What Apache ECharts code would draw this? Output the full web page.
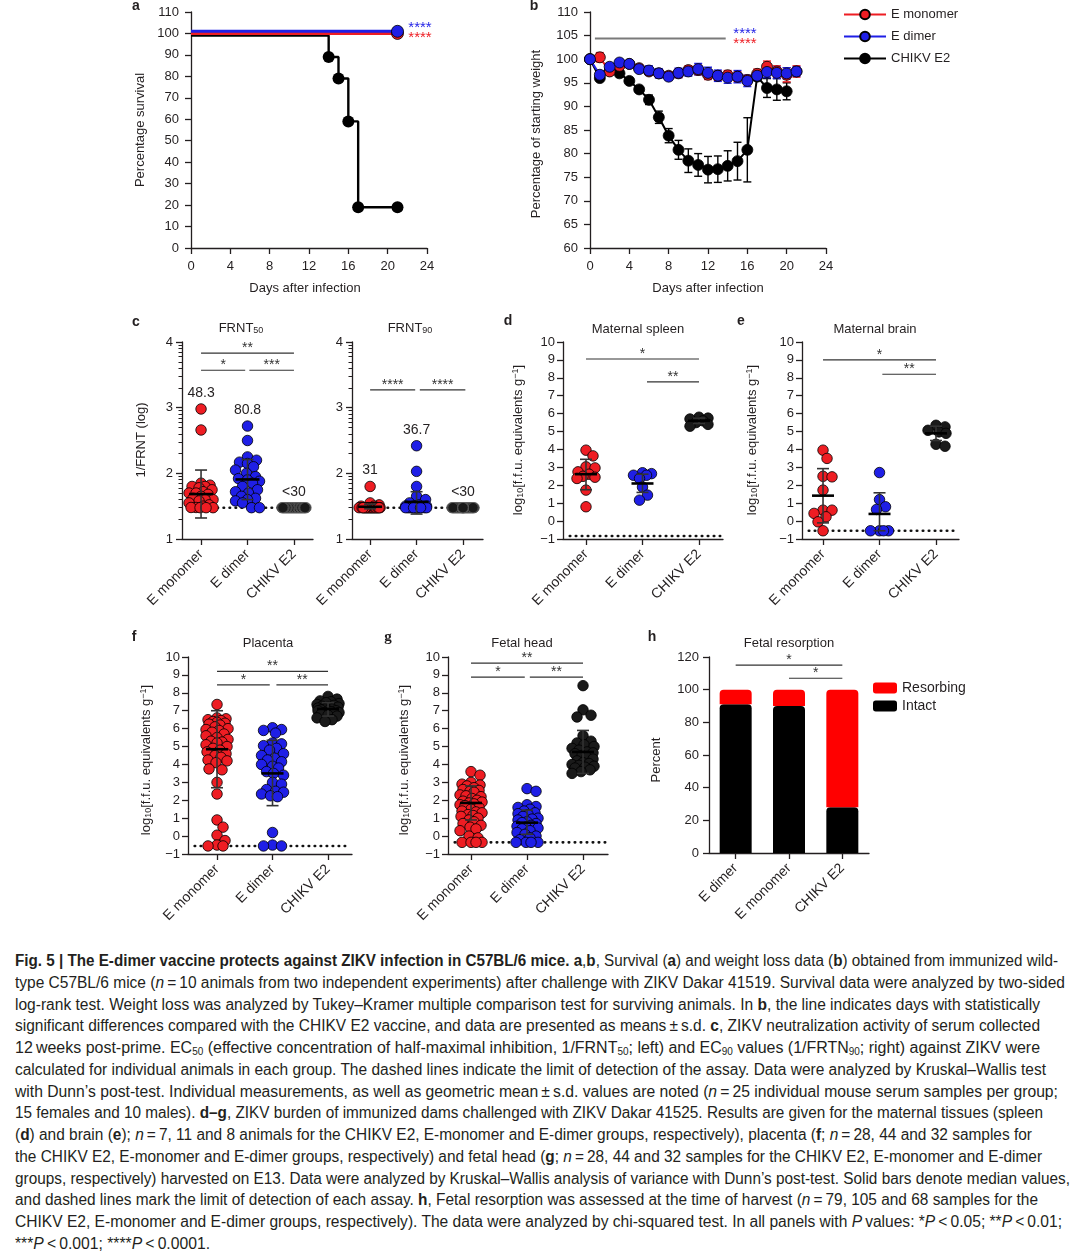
<!DOCTYPE html>
<html><head><meta charset="utf-8">
<script src="https://cdn.jsdelivr.net/npm/echarts@6/dist/echarts.min.js"></script>
<style>
html,body{margin:0;padding:0;background:#fff}
body{width:1080px;height:1258px;overflow:hidden;position:relative}
#chart{position:absolute;left:0;top:0;width:1080px;height:940px}
#caption{position:absolute;left:15px;top:950px;font-family:'Liberation Sans',Arial,sans-serif;font-size:16px;color:#231f20;line-height:21.75px}
.ln{white-space:nowrap;transform-origin:0 50%;width:max-content;height:21.75px}
sub{font-size:10px;vertical-align:-2px;line-height:0}
</style></head>
<body>
<div id="chart"></div>
<div id="caption"></div>
<script>
// ======================= DATA =======================
const groups3 = ['E monomer', 'E dimer', 'CHIKV E2'];
const groupsH = ['E dimer', 'E monomer', 'CHIKV E2'];

// (a) survival
const survDaysMono = [0, 21];
const survMono = [100, 100];
const survDaysDimer = [0, 21];
const survDimer = [101, 101];
const survDaysChikv = [0, 14, 15, 16, 17, 21];
const survChikv = [99, 89, 79, 59, 19, 19];

// (b) weight (% of starting weight), mean and s.d.
const weightDays = [0,1,2,3,4,5,6,7,8,9,10,11,12,13,14,15,16,17,18,19,20,21];
const wMono   = [100,100.4,97.4,98.6,99.0,98.1,97.4,97.0,96.5,97.0,97.7,97.7,96.7,96.5,96.6,96.3,95.6,96.9,98.4,97.4,96.7,97.4];
const wMonoSd = [0,1.0,0.7,0.7,0.6,0.7,0.8,0.8,0.8,0.9,0.9,1.0,1.0,1.0,1.0,1.0,1.0,1.0,1.2,1.2,1.5,1.2];
const wDimer   = [100,96.7,98.4,99.3,99.0,97.9,97.6,97.0,96.3,97.1,97.4,97.9,97.1,96.5,96.1,96.3,95.4,96.5,97.3,97.1,97.0,97.4];
const wDimerSd = [0,0.8,0.7,0.6,0.6,0.7,1.0,1.0,0.8,1.0,1.0,1.2,1.2,1.2,1.2,1.3,1.2,1.0,1.2,1.2,1.2,1.0];
const chikvDays = [0,1,2,3,4,5,6,7,8,9,10,11,12,13,14,15,16,17,18,19,20];
const wChikv   = [100,96.0,97.5,97.0,95.4,93.6,91.4,87.7,83.8,80.8,78.5,77.6,76.6,76.7,77.4,78.4,80.8,96.3,93.9,93.6,93.2];
const wChikvSd = [0,0.5,0.5,0.5,0.5,0.5,1.0,1.3,1.5,2.0,2.5,2.4,2.8,2.8,3.2,4.0,6.8,0.8,2.0,2.3,1.8];

// (c) 1/FRNT (log10)
const frnt50Mono  = [2.98,2.66,1.85,1.82,1.8,1.8,1.78,1.75,1.72,1.7,1.7,1.68,1.65,1.62,1.6,1.6,1.58,1.55,1.52,1.5,1.48,1.48,1.477,1.477,1.477];
const frnt50Dimer = [2.72,2.5,2.25,2.2,2.17,2.15,2.1,2.05,2.0,1.95,1.92,1.9,1.88,1.85,1.8,1.75,1.72,1.7,1.65,1.62,1.6,1.58,1.55,1.477,1.477];
const frnt50Chikv = [1.477,1.477,1.477,1.477,1.477,1.477,1.477,1.477,1.477,1.477,1.477,1.477,1.477,1.477,1.477,1.477,1.477,1.477,1.477,1.477,1.477,1.477,1.477,1.477,1.477];
const frnt50Mean = [1.684, 1.907, null];
const frnt50Lo   = [1.32, 1.60, null];
const frnt50Hi   = [2.05, 2.21, null];
const frnt50Labels = ['48.3', '80.8', '<30'];
const frnt90Mono  = [1.8,1.55,1.52,1.5,1.5,1.477,1.477,1.477,1.477,1.477,1.477,1.477,1.477,1.477,1.477,1.477,1.477,1.477,1.477,1.477,1.477,1.477,1.477,1.477,1.477];
const frnt90Dimer = [2.42,2.03,1.8,1.65,1.6,1.55,1.52,1.5,1.5,1.5,1.49,1.477,1.477,1.477,1.477,1.477,1.477,1.477,1.477,1.477,1.477,1.477,1.477,1.477,1.477];
const frnt90Chikv = [1.477,1.477,1.477,1.477,1.477,1.477,1.477,1.477,1.477,1.477,1.477,1.477,1.477,1.477,1.477,1.477,1.477,1.477,1.477,1.477,1.477,1.477,1.477,1.477,1.477];
const frnt90Mean = [1.491, 1.565, null];
const frnt90Lo   = [1.46, 1.38, null];
const frnt90Hi   = [1.53, 1.72, null];
const frnt90Labels = ['31', '36.7', '<30'];
const frntLod = 1.477;

// (d) maternal spleen
const spleenMono  = [3.96,3.64,3.03,2.97,2.75,2.62,2.5,2.45,2.38,1.73,0.8];
const spleenDimer = [2.7,2.65,2.56,2.56,2.38,1.9,1.45,1.17];
const spleenChikv = [5.8,5.75,5.7,5.6,5.5,5.4,5.3];
const spleenMed = [2.62, 2.1, 5.6], spleenLo = [1.75, 1.6, 5.45], spleenHi = [3.45, 2.62, 5.75];
const spleenLod = -0.83;
// (e) maternal brain
const brainMono  = [3.96,3.5,2.5,2.47,1.73,0.61,0.61,0.43,0.24,-0.04,-0.54];
const brainDimer = [2.71,1.2,0.8,0.65,-0.54,-0.54,-0.54,-0.54];
const brainChikv = [5.35,5.26,5.07,4.98,4.9,4.29,4.18];
const brainMed = [1.42, 0.4, 4.9], brainLo = [-0.1, -0.54, 4.5], brainHi = [2.93, 1.58, 5.3];
const brainLod = -0.54;
// (f) placenta
const placMono = [7.35,6.6,6.55,6.5,6.45,6.4,6.35,6.3,6.25,6.2,6.1,6.0,5.95,5.9,5.8,5.7,5.6,5.5,5.4,5.3,5.25,5.2,5.1,5.0,4.9,4.8,4.7,4.6,4.5,4.4,4.25,4.2,4.1,3.75,3.7,3.0,2.35,0.9,0.5,0.05,-0.25,-0.5,-0.55,-0.55];
const placDimer = [6.05,5.95,5.9,5.75,5.2,5.15,5.05,4.9,4.8,4.6,4.5,4.35,4.25,4.15,4.0,3.9,3.8,3.6,3.5,3.4,3.0,2.9,2.6,2.5,2.45,2.35,2.25,2.2,0.2,-0.5,-0.55,-0.55];
const placChikv = [7.8,7.65,7.55,7.5,7.45,7.4,7.35,7.3,7.25,7.2,7.2,7.15,7.1,7.1,7.05,7.0,7.0,7.0,6.95,6.9,6.9,6.85,6.8,6.75,6.7,6.6,6.5,6.4];
const placMed = [4.85, 3.5, 7.1], placLo = [2.7, 1.7, 6.7], placHi = [7.0, 5.35, 7.45];
const placLod = -0.55;
// (g) fetal head
const headMono = [3.6,3.4,3.0,2.9,2.85,2.8,2.7,2.6,2.55,2.5,2.45,2.3,2.25,2.2,2.1,2.0,1.95,1.9,1.85,1.8,1.75,1.7,1.6,1.5,1.4,1.35,1.3,1.2,1.15,1.1,1.0,0.9,0.8,0.7,0.6,0.5,0.4,0.3,0.0,-0.1,-0.35,-0.35,-0.35,-0.35];
const headDimer = [2.65,2.5,1.75,1.65,1.6,1.5,1.4,1.3,1.25,1.2,1.1,1.0,0.95,0.9,0.8,0.75,0.7,0.6,0.55,0.5,0.45,0.4,0.3,0.2,0.1,0.0,-0.1,-0.2,-0.35,-0.35,-0.35,-0.35];
const headChikv = [8.4,7.05,6.75,6.65,5.6,5.3,5.2,5.1,5.0,4.9,4.8,4.7,4.65,4.6,4.5,4.4,4.3,4.2,4.1,4.05,4.0,3.95,3.9,3.85,3.8,3.7,3.6,3.5];
const headMed = [1.85, 0.75, 4.7], headLo = [0.9, 0.1, 3.5], headHi = [2.8, 1.45, 5.9];
const headLod = -0.35;

// (h) fetal resorption (%), order E dimer, E monomer, CHIKV E2
const intactPct = [91, 90, 28];
const resorbPct = [9, 10, 72];

// significance brackets [x1, x2, y] and texts
const sigC1 = [[1, 3, 3.83], [1, 1.95, 3.57], [2.04, 3, 3.57]], sigC1Txt = ['**', '*', '***'];
const sigC2 = [[1, 1.97, 3.27], [2.07, 3.05, 3.27]], sigC2Txt = ['****', '****'];
const sigD = [[1, 3, 9.05], [2.08, 3, 7.77]], sigDTxt = ['*', '**'];
const sigE = [[1, 3, 9.0], [2.05, 3, 8.2]], sigETxt = ['*', '**'];
const sigF = [[1, 3, 9.2], [1, 1.95, 8.44], [2.07, 3, 8.44]], sigFTxt = ['**', '*', '**'];
const sigG = [[1, 3, 9.66], [1, 1.96, 8.88], [2.05, 3, 8.88]], sigGTxt = ['**', '*', '**'];
const sigH = [[0, 2, 115], [1, 2, 107]], sigHTxt = ['*', '*'];
const sigB = [[0.5, 13.8, 104.4]];

// ======================= STYLE / LAYOUT =======================
const SANS = "'Liberation Sans', Arial, Helvetica, sans-serif";
const INK = '#231f20';
const RED = '#ee1d23', BLUE = '#1f1fe6', BLK = '#000000';
const MINUS = '\u2212';

const grids = [], xAxes = [], yAxes = [], series = [], graphics = [];

function merge(a, b) {
  const o = Object.assign({}, a);
  for (const k in b) {
    if (b[k] && typeof b[k] === 'object' && !Array.isArray(b[k]) && a && a[k] && typeof a[k] === 'object' && !Array.isArray(a[k])) o[k] = merge(a[k], b[k]);
    else o[k] = b[k];
  }
  return o;
}
function baseAxis(extra) {
  return merge({
    axisLine: { show: true, onZero: false, lineStyle: { color: INK, width: 1.3 } },
    axisTick: { show: true, inside: false, length: 6, lineStyle: { color: INK, width: 1.3 } },
    axisLabel: { color: INK, fontSize: 13, fontFamily: SANS },
    splitLine: { show: false }
  }, extra);
}
function addGrid(g) {
  grids.push({ left: g[0], top: g[1], width: g[2], height: g[3], containLabel: false });
  return grids.length - 1;
}
const minusFmt = v => String(v).replace('-', MINUS);

function txt(x, y, text, style, el) {
  graphics.push(Object.assign({ type: 'text', x: x, y: y, silent: true,
    style: Object.assign({ text: text, fill: INK, fontSize: 13, fontFamily: SANS, align: 'center', verticalAlign: 'middle' }, style || {}) }, el || {}));
}

// deterministic beeswarm layout (pixel-space dodge), returns x offsets in axis units
function swarm(values, pxY, pxX, dia, maxHalf) {
  const order = values.map((v, i) => i).sort((a, b) => values[b] - values[a]);
  const placed = [], offs = values.map(() => 0);
  const cands = [0];
  for (let k = 1; k <= maxHalf; k++) { cands.push(k, -k); }
  order.forEach(i => {
    const y = values[i] * pxY;
    let best = 0, bestD = -1;
    for (const c of cands) {
      let md = Infinity;
      for (const p of placed) { const d = Math.hypot(p.x - c, p.y - y); if (d < md) md = d; }
      if (md >= dia) { best = c; break; }
      if (md > bestD + 0.5) { bestD = md; best = c; }
    }
    placed.push({ x: best, y: y });
    offs[i] = best / pxX;
  });
  return offs;
}

function bracketRender(texts, color) {
  return function (params, api) {
    const p1 = api.coord([api.value(0), api.value(2)]);
    const p2 = api.coord([api.value(1), api.value(2)]);
    const ch = [{ type: 'line', shape: { x1: p1[0], y1: p1[1], x2: p2[0], y2: p2[1] }, style: { stroke: color || '#333', lineWidth: color ? 2 : 1.2 } }];
    const t = texts ? texts[params.dataIndex] : '';
    if (t) ch.push({ type: 'text', x: (p1[0] + p2[0]) / 2, y: p1[1] - 5, style: { text: t, fill: '#333', fontSize: 14, fontFamily: SANS, align: 'center', verticalAlign: 'middle' } });
    return { type: 'group', children: ch };
  };
}
function summaryRender(half, cap) {
  return function (params, api) {
    const x = api.value(0);
    const pc = api.coord([x, api.value(1)]), pl = api.coord([x, api.value(2)]), ph = api.coord([x, api.value(3)]);
    const st = { stroke: '#333', lineWidth: 1.6 };
    return { type: 'group', children: [
      { type: 'line', shape: { x1: pl[0], y1: pl[1], x2: ph[0], y2: ph[1] }, style: st },
      { type: 'line', shape: { x1: pl[0] - cap, y1: pl[1], x2: pl[0] + cap, y2: pl[1] }, style: st },
      { type: 'line', shape: { x1: ph[0] - cap, y1: ph[1], x2: ph[0] + cap, y2: ph[1] }, style: st },
      { type: 'line', shape: { x1: pc[0] - half, y1: pc[1], x2: pc[0] + half, y2: pc[1] }, style: { stroke: '#000', lineWidth: 2.6 } }
    ] };
  };
}
function errRender(color, cap) {
  return function (params, api) {
    const x = api.value(0), m = api.value(1), s = api.value(2);
    const pl = api.coord([x, m - s]), ph = api.coord([x, m + s]);
    const st = { stroke: color, lineWidth: 1.4 };
    if (!s) return { type: 'group', children: [] };
    return { type: 'group', children: [
      { type: 'line', shape: { x1: pl[0], y1: pl[1], x2: ph[0], y2: ph[1] }, style: st },
      { type: 'line', shape: { x1: pl[0] - cap, y1: pl[1], x2: pl[0] + cap, y2: pl[1] }, style: st },
      { type: 'line', shape: { x1: ph[0] - cap, y1: ph[1], x2: ph[0] + cap, y2: ph[1] }, style: st }
    ] };
  };
}
function labelRender(texts) {
  return function (params, api) {
    const p = api.coord([api.value(0), api.value(1)]);
    return { type: 'text', x: p[0], y: p[1] - 16, style: { text: texts[params.dataIndex], fill: INK, fontSize: 14, fontFamily: SANS, align: 'center', verticalAlign: 'middle' } };
  };
}

// ---------- (a) survival ----------
(function () {
  const gi = addGrid([191, 12, 236, 236]);
  xAxes.push(baseAxis({ type: 'value', gridIndex: gi, min: 0, max: 24, interval: 4, axisLabel: { margin: 12 } }));
  yAxes.push(baseAxis({ type: 'value', gridIndex: gi, min: 0, max: 110, interval: 10, axisLabel: { margin: 12 } }));
  const xi = xAxes.length - 1, yi = yAxes.length - 1;
  const mk = (days, vals) => days.map((d, i) => i === 0 ? { value: [d, vals[i]], symbol: 'none' } : [d, vals[i]]);
  series.push({ type: 'line', name: 'CHIKV E2 survival', xAxisIndex: xi, yAxisIndex: yi, step: 'end', data: mk(survDaysChikv, survChikv),
    symbol: 'circle', symbolSize: 12, itemStyle: { color: BLK }, lineStyle: { color: BLK, width: 2.4 } });
  series.push({ type: 'line', name: 'E monomer survival', xAxisIndex: xi, yAxisIndex: yi, data: mk(survDaysMono, survMono),
    symbol: 'circle', symbolSize: 12, itemStyle: { color: RED, borderColor: '#000', borderWidth: 0.8 }, lineStyle: { color: RED, width: 3 } });
  series.push({ type: 'line', name: 'E dimer survival', xAxisIndex: xi, yAxisIndex: yi, data: mk(survDaysDimer, survDimer),
    symbol: 'circle', symbolSize: 12, itemStyle: { color: BLUE, borderColor: '#000', borderWidth: 0.8 }, lineStyle: { color: BLUE, width: 3 } });
  txt(136, 6, 'a', { fontWeight: 'bold', fontSize: 14 });
  txt(140, 130, 'Percentage survival', {}, { rotation: Math.PI / 2 });
  txt(305, 288, 'Days after infection');
  txt(420, 28, '****', { fill: BLUE, fontSize: 15 });
  txt(420, 38, '****', { fill: RED, fontSize: 15 });
})();

// ---------- (b) weight ----------
(function () {
  const gi = addGrid([590, 12, 236, 236]);
  xAxes.push(baseAxis({ type: 'value', gridIndex: gi, min: 0, max: 24, interval: 4, axisLabel: { margin: 12 } }));
  yAxes.push(baseAxis({ type: 'value', gridIndex: gi, min: 60, max: 110, interval: 5, axisLabel: { margin: 12 } }));
  const xi = xAxes.length - 1, yi = yAxes.length - 1;
  series.push({ type: 'custom', xAxisIndex: xi, yAxisIndex: yi, renderItem: bracketRender(null, '#7a7a7a'), data: sigB, z: 1 });
  const add = (name, days, m, sd, color) => {
    series.push({ type: 'custom', xAxisIndex: xi, yAxisIndex: yi, renderItem: errRender(color, 4), data: days.map((d, i) => [d, m[i], sd[i]]) });
    series.push({ type: 'line', name: name, xAxisIndex: xi, yAxisIndex: yi, data: days.map((d, i) => [d, m[i]]),
      symbol: 'circle', symbolSize: 11, showAllSymbol: true,
      itemStyle: { color: color, borderColor: '#000', borderWidth: 0.8 }, lineStyle: { color: color, width: 2 } });
  };
  add('CHIKV E2', chikvDays, wChikv, wChikvSd, BLK);
  add('E monomer', weightDays, wMono, wMonoSd, RED);
  add('E dimer', weightDays, wDimer, wDimerSd, BLUE);
  txt(534, 6, 'b', { fontWeight: 'bold', fontSize: 14 });
  txt(536, 134, 'Percentage of starting weight', {}, { rotation: Math.PI / 2 });
  txt(708, 288, 'Days after infection');
  txt(745, 34, '****', { fill: BLUE, fontSize: 15 });
  txt(745, 44, '****', { fill: RED, fontSize: 15 });
})();

// ---------- scatter panel builder ----------
function scatterPanel(cfg) {
  const g = cfg.grid;
  const gi = addGrid(g);
  const pxX = g[2] / (cfg.xmax - cfg.xmin), pxY = g[3] / (cfg.ymax - cfg.ymin);
  xAxes.push(baseAxis({ type: 'value', gridIndex: gi, min: cfg.xmin, max: cfg.xmax,
    axisTick: { customValues: [1, 2, 3], length: 6 },
    axisLabel: { customValues: [1, 2, 3], formatter: v => groups3[Math.round(v) - 1], rotate: 45, fontSize: 14, margin: 13 } }));
  const xi = xAxes.length - 1;
  yAxes.push(baseAxis(merge({ type: 'value', gridIndex: gi, position: 'left', min: cfg.ymin, max: cfg.ymax, interval: cfg.interval,
    axisLabel: { margin: cfg.labelMargin || 8, formatter: minusFmt } }, cfg.yExtra || {})));
  const yi = yAxes.length - 1;
  if (cfg.minorTicks) {
    yAxes.push({ type: 'value', gridIndex: gi, position: 'left', min: cfg.ymin, max: cfg.ymax,
      axisLine: { show: false }, axisLabel: { show: false }, splitLine: { show: false },
      axisTick: { show: true, length: 3.5, customValues: cfg.minorTicks, lineStyle: { color: INK, width: 1 } } });
  }
  series.push({ type: 'line', xAxisIndex: xi, yAxisIndex: yi, data: [[cfg.xmin + 0.12, cfg.lod], [cfg.xmax - 0.05, cfg.lod]], symbol: 'none',
    lineStyle: { color: '#111', width: 2.6, type: [0.5, 5.5], cap: 'round' }, silent: true, z: 1 });
  const colors = [RED, BLUE, '#1a1a1a'];
  cfg.groups.forEach((vals, gIdx) => {
    const offs = swarm(vals, pxY, pxX, cfg.dia || 9, cfg.maxHalf || 9);
    series.push({ type: 'scatter', xAxisIndex: xi, yAxisIndex: yi, symbolSize: 10.5,
      itemStyle: { color: colors[gIdx], borderColor: gIdx === 2 && cfg.grayChikv ? '#666' : '#000', borderWidth: 0.8, opacity: 1 },
      data: vals.map((v, i) => [gIdx + 1 + offs[i], v]), z: 3 });
  });
  const summ = [];
  cfg.center.forEach((c, i) => { if (c !== null) summ.push([i + 1, c, cfg.lo[i], cfg.hi[i]]); });
  series.push({ type: 'custom', xAxisIndex: xi, yAxisIndex: yi, renderItem: summaryRender(cfg.half || 11, 6), data: summ, z: 5 });
  series.push({ type: 'custom', xAxisIndex: xi, yAxisIndex: yi, renderItem: bracketRender(cfg.sigTxt), data: cfg.sig, z: 5 });
  if (cfg.labels) {
    series.push({ type: 'custom', xAxisIndex: xi, yAxisIndex: yi, renderItem: labelRender(cfg.labels),
      data: cfg.groups.map((vals, i) => [i + 1, Math.max.apply(null, vals)]), z: 5 });
  }
}

const logMinor = [];
[1, 2, 3].forEach(d => { for (let k = 2; k <= 9; k++) logMinor.push(d + Math.log10(k)); });
const subRich = {
  n: { fontSize: 13, fontFamily: SANS, fill: INK, lineHeight: 14 },
  s: { fontSize: 9, fontFamily: SANS, fill: INK, verticalAlign: 'bottom', lineHeight: 14 },
  p: { fontSize: 9, fontFamily: SANS, fill: INK, verticalAlign: 'top', lineHeight: 14 }
};

// (c) FRNT50 / FRNT90
scatterPanel({ grid: [182, 342, 131, 197], xmin: 0.59, xmax: 3.41, ymin: 1, ymax: 4, interval: 1, minorTicks: logMinor, labelMargin: 9,
  groups: [frnt50Mono, frnt50Dimer, frnt50Chikv], center: frnt50Mean, lo: frnt50Lo, hi: frnt50Hi, lod: frntLod,
  sig: sigC1, sigTxt: sigC1Txt, labels: frnt50Labels, maxHalf: 12, grayChikv: true, half: 12 });
scatterPanel({ grid: [352, 342, 131, 197], xmin: 0.61, xmax: 3.43, ymin: 1, ymax: 4, interval: 1, minorTicks: logMinor, labelMargin: 9,
  groups: [frnt90Mono, frnt90Dimer, frnt90Chikv], center: frnt90Mean, lo: frnt90Lo, hi: frnt90Hi, lod: frntLod,
  sig: sigC2, sigTxt: sigC2Txt, labels: frnt90Labels, maxHalf: 11, grayChikv: true, half: 12 });
txt(136, 322, 'c', { fontWeight: 'bold', fontSize: 14 });
txt(141, 440, '1/FRNT (log)', {}, { rotation: Math.PI / 2 });
txt(241, 328, '{n|FRNT}{s|50}', { rich: subRich });
txt(410, 328, '{n|FRNT}{s|90}', { rich: subRich });

// (d)-(g)
scatterPanel({ grid: [563, 342, 160, 197], xmin: 0.593, xmax: 3.425, ymin: -1, ymax: 10, interval: 1,
  groups: [spleenMono, spleenDimer, spleenChikv], center: spleenMed, lo: spleenLo, hi: spleenHi, lod: spleenLod,
  sig: sigD, sigTxt: sigDTxt, maxHalf: 9 });
scatterPanel({ grid: [802, 342, 157, 197], xmin: 0.628, xmax: 3.407, ymin: -1, ymax: 10, interval: 1,
  groups: [brainMono, brainDimer, brainChikv], center: brainMed, lo: brainLo, hi: brainHi, lod: brainLod,
  sig: sigE, sigTxt: sigETxt, maxHalf: 10 });
scatterPanel({ grid: [188, 657, 164, 197], xmin: 0.477, xmax: 3.432, ymin: -1, ymax: 10, interval: 1,
  groups: [placMono, placDimer, placChikv], center: placMed, lo: placLo, hi: placHi, lod: placLod,
  sig: sigF, sigTxt: sigFTxt, maxHalf: 11 });
scatterPanel({ grid: [448, 657, 160, 197], xmin: 0.589, xmax: 3.446, ymin: -1, ymax: 10, interval: 1,
  groups: [headMono, headDimer, headChikv], center: headMed, lo: headLo, hi: headHi, lod: headLod,
  sig: sigG, sigTxt: sigGTxt, maxHalf: 11 });

const yTitle = '{n|log}{s|10}{n|[f.f.u. equivalents g}{p|' + MINUS + '1}{n|]}';
txt(508, 321, 'd', { fontWeight: 'bold', fontSize: 14 });
txt(741, 321, 'e', { fontWeight: 'bold', fontSize: 14 });
txt(134, 637, 'f', { fontWeight: 'bold', fontSize: 14 });
txt(388, 637, 'g', { fontWeight: 'bold', fontSize: 15, fontFamily: "'Liberation Serif', serif" });
txt(652, 637, 'h', { fontWeight: 'bold', fontSize: 14 });
txt(518, 440, yTitle, { rich: subRich }, { rotation: Math.PI / 2 });
txt(752, 440, yTitle, { rich: subRich }, { rotation: Math.PI / 2 });
txt(146, 760, yTitle, { rich: subRich }, { rotation: Math.PI / 2 });
txt(404, 760, yTitle, { rich: subRich }, { rotation: Math.PI / 2 });
txt(638, 329, 'Maternal spleen');
txt(875, 329, 'Maternal brain');
txt(268, 643, 'Placenta');
txt(522, 643, 'Fetal head');
txt(789, 643, 'Fetal resorption');

// ---------- (h) fetal resorption ----------
(function () {
  const gi = addGrid([709, 657, 160, 196]);
  xAxes.push(baseAxis({ type: 'category', gridIndex: gi, data: groupsH, boundaryGap: true,
    axisTick: { alignWithLabel: true, length: 6 }, axisLabel: { rotate: 45, fontSize: 14, margin: 13, interval: 0 } }));
  yAxes.push(baseAxis({ type: 'value', gridIndex: gi, min: 0, max: 120, interval: 20, axisLabel: { margin: 10 } }));
  const xi = xAxes.length - 1, yi = yAxes.length - 1;
  series.push({ type: 'bar', name: 'Intact', stack: 'h', xAxisIndex: xi, yAxisIndex: yi, barWidth: 32, data: intactPct,
    itemStyle: { color: '#000', borderRadius: [4, 4, 0, 0] } });
  series.push({ type: 'bar', name: 'Resorbing', stack: 'h', xAxisIndex: xi, yAxisIndex: yi, barWidth: 32, data: resorbPct,
    itemStyle: { color: '#ff0000', borderRadius: [4, 4, 0, 0] } });
  series.push({ type: 'custom', xAxisIndex: xi, yAxisIndex: yi, renderItem: bracketRender(sigHTxt), data: sigH, z: 5 });
  txt(656, 760, 'Percent', {}, { rotation: Math.PI / 2 });
})();

const option = {
  animation: false,
  textStyle: { fontFamily: SANS },
  grid: grids, xAxis: xAxes, yAxis: yAxes, series: series, graphic: { elements: graphics },
  legend: [
    { data: ['E monomer', 'E dimer', 'CHIKV E2'], orient: 'vertical', left: 838, top: 3, itemWidth: 42, itemHeight: 12, itemGap: 9,
      selectedMode: false, textStyle: { fontSize: 13, color: INK, fontFamily: SANS } },
    { data: ['Resorbing', 'Intact'], orient: 'vertical', left: 868, top: 676, itemWidth: 24, itemHeight: 11, itemGap: 4, icon: 'roundRect',
      selectedMode: false, textStyle: { fontSize: 14, color: INK, fontFamily: SANS } }
  ]
};
try {
  const chart = echarts.init(document.getElementById('chart'), null, { renderer: 'canvas' });
  chart.setOption(option);
} catch (e) { console.error('chart error: ' + e.message); }

// ======================= CAPTION =======================
const capLines = [
  '<b>Fig. 5 | The E-dimer vaccine protects against ZIKV infection in C57BL/6 mice. a</b>,<b>b</b>, Survival (<b>a</b>) and weight loss data (<b>b</b>) obtained from immunized wild-',
  'type C57BL/6 mice (<i>n</i>\u2009=\u200910 animals from two independent experiments) after challenge with ZIKV Dakar 41519. Survival data were analyzed by two-sided',
  'log-rank test. Weight loss was analyzed by Tukey\u2013Kramer multiple comparison test for surviving animals. In <b>b</b>, the line indicates days with statistically',
  'significant differences compared with the CHIKV E2 vaccine, and data are presented as means\u2009\u00b1\u2009s.d. <b>c</b>, ZIKV neutralization activity of serum collected',
  '12\u2009weeks post-prime. EC<sub>50</sub> (effective concentration of half-maximal inhibition, 1/FRNT<sub>50</sub>; left) and EC<sub>90</sub> values (1/FRTN<sub>90</sub>; right) against ZIKV were',
  'calculated for individual animals in each group. The dashed lines indicate the limit of detection of the assay. Data were analyzed by Kruskal\u2013Wallis test',
  'with Dunn\u2019s post-test. Individual measurements, as well as geometric mean\u2009\u00b1\u2009s.d. values are noted (<i>n</i>\u2009=\u200925 individual mouse serum samples per group;',
  '15 females and 10 males). <b>d\u2013g</b>, ZIKV burden of immunized dams challenged with ZIKV Dakar 41525. Results are given for the maternal tissues (spleen',
  '(<b>d</b>) and brain (<b>e</b>); <i>n</i>\u2009=\u20097, 11 and 8 animals for the CHIKV E2, E-monomer and E-dimer groups, respectively), placenta (<b>f</b>; <i>n</i>\u2009=\u200928, 44 and 32 samples for',
  'the CHIKV E2, E-monomer and E-dimer groups, respectively) and fetal head (<b>g</b>; <i>n</i>\u2009=\u200928, 44 and 32 samples for the CHIKV E2, E-monomer and E-dimer',
  'groups, respectively) harvested on E13. Data were analyzed by Kruskal\u2013Wallis analysis of variance with Dunn\u2019s post-test. Solid bars denote median values,',
  'and dashed lines mark the limit of detection of each assay. <b>h</b>, Fetal resorption was assessed at the time of harvest (<i>n</i>\u2009=\u200979, 105 and 68 samples for the',
  'CHIKV E2, E-monomer and E-dimer groups, respectively). The data were analyzed by chi-squared test. In all panels with <i>P</i>\u2009values: *<i>P</i>\u2009&lt;\u20090.05; **<i>P</i>\u2009&lt;\u20090.01;',
  '***<i>P</i>\u2009&lt;\u20090.001; ****<i>P</i>\u2009&lt;\u20090.0001.'
];
const capEnds = [1058, 1065, 1040, 1040, 1040, 1046, 1058, 1043, 1032, 1042, 1070, 1038, 1062, 210];
const capBox = document.getElementById('caption');
capLines.forEach((html, i) => {
  const d = document.createElement('div');
  d.className = 'ln';
  d.innerHTML = html;
  capBox.appendChild(d);
  const w = d.getBoundingClientRect().width;
  let s = (capEnds[i] - 15) / w;
  s = Math.max(0.95, Math.min(1.05, s));
  if (w > 0) d.style.transform = 'scaleX(' + s.toFixed(4) + ')';
});
</script>
</body></html>
